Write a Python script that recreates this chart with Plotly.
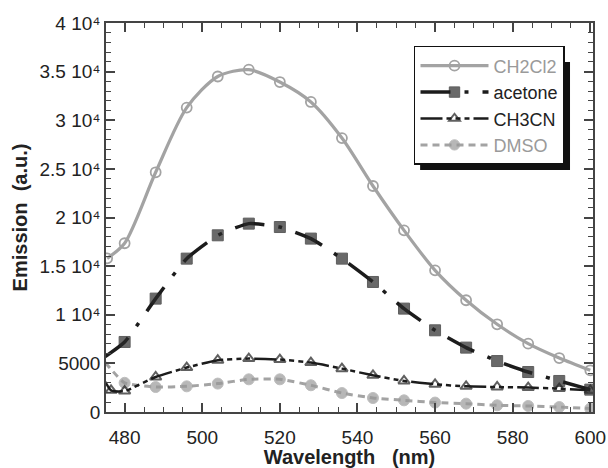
import plotly.graph_objects as go

# Emission spectra of the complex in four solvents
wl_ch2cl2 = [475.5, 480, 488, 496, 504, 512, 520, 528, 536, 544, 552, 560, 568, 576, 584, 592, 600]
em_ch2cl2 = [15800, 17350, 24650, 31300, 34500, 35200, 33930, 31880, 28170, 23240, 18680, 14570,
             11490, 9020, 7030, 5550, 4290]

wl_acetone = [475.0, 480, 488, 496, 504, 512, 520, 528, 536, 544, 552, 560, 568, 576, 584, 592, 600]
em_acetone = [5700, 7200, 11660, 15770, 18170, 19370, 19020, 17830, 15770, 13370, 10630, 8400,
              6620, 5240, 4110, 3190, 2300]

wl_ch3cn = [475.0, 476.5, 480, 488, 496, 504, 512, 520, 528, 536, 544, 552, 560, 568, 576, 584, 592, 600]
em_ch3cn = [3100, 2230, 2150, 3600, 4570, 5320, 5490, 5390, 5080, 4460, 3770, 3190, 2850, 2640,
            2570, 2510, 2410, 2230]

wl_dmso = [475.0, 480, 488, 496, 504, 512, 520, 528, 536, 544, 552, 560, 568, 576, 584, 592, 600]
em_dmso = [5100, 3000, 2570, 2640, 2920, 3360, 3360, 2750, 1950, 1440, 1200, 970, 860, 690, 620,
           510, 350]

x_ticks = [480, 500, 520, 540, 560, 580, 600]
y_ticks = [0, 5000, 10000, 15000, 20000, 25000, 30000, 35000, 40000]
y_ticktext = ["0", "5000", "1 10\u2074", "1.5 10\u2074", "2 10\u2074",
              "2.5 10\u2074", "3 10\u2074", "3.5 10\u2074", "4 10\u2074"]

GRAY = "#a3a3a3"
DARK = "#1c1c1c"
NB = "\u00a0"


def sizes(xs, size):
    # no marker on the points that sit on the left frame edge
    return [0 if x < 476.5 and x != 475.5 else size for x in xs]


fig = go.Figure()

fig.add_trace(go.Scatter(
    x=wl_dmso, y=em_dmso, name='<span style="color:#9a9a9a">DMSO</span>', legendrank=4,
    mode="lines+markers", line=dict(color=GRAY, width=3, dash="7px,5px", shape="spline", smoothing=0.5),
    marker=dict(symbol="circle", size=sizes(wl_dmso, 11), color="#999999"),
))
fig.add_trace(go.Scatter(
    x=wl_ch3cn, y=em_ch3cn, name="CH3CN", legendrank=3,
    mode="lines+markers",
    line=dict(color=DARK, width=2.5, dash="22px,4px,5px,4px,5px,4px,5px,4px", shape="spline", smoothing=0.5),
    marker=dict(symbol="triangle-up-open", size=sizes(wl_ch3cn, 10), color=DARK, line=dict(width=2)),
))
fig.add_trace(go.Scatter(
    x=wl_acetone, y=em_acetone, name="acetone", legendrank=2,
    mode="lines+markers",
    line=dict(color=DARK, width=3.5, dash="30px,14px,4px,14px", shape="spline", smoothing=0.5),
    marker=dict(symbol="square", size=sizes(wl_acetone, 11), color="#2a2a2a"),
))
fig.add_trace(go.Scatter(
    x=wl_ch2cl2, y=em_ch2cl2, name='<span style="color:#9a9a9a">CH2Cl2</span>', legendrank=1,
    mode="lines+markers", line=dict(color=GRAY, width=3.2, shape="spline", smoothing=0.8),
    marker=dict(symbol="circle-open", size=10, color=GRAY, line=dict(width=1.8)),
))

axis_common = dict(
    showline=True, linecolor="#444444", linewidth=1.5, mirror="allticks",
    ticks="inside", tickcolor="#444444", tickwidth=1.5, ticklen=9,
    showgrid=False, zeroline=False, automargin=False,
    tickfont=dict(family="Liberation Sans, Arial", size=19, color="#222222"),
)

fig.update_layout(
    width=608, height=468,
    margin=dict(l=106, r=15, t=23, b=56),
    paper_bgcolor="white", plot_bgcolor="white",
    font=dict(family="Liberation Sans, Arial", color="#222222"),
    xaxis=dict(
        range=[475.2, 600.7], tickvals=x_ticks, ticktext=[str(v) for v in x_ticks],
        minor=dict(dtick=5, tick0=480, ticks="inside", ticklen=5, tickcolor="#444444", tickwidth=1.2),
        title=dict(text=f"<b>Wavelength{NB}{NB}{NB}(nm)</b>", font=dict(size=20), standoff=5),
        ticklabelstandoff=7,
        **axis_common,
    ),
    yaxis=dict(
        range=[0, 40000], tickvals=y_ticks, ticktext=y_ticktext,
        minor=dict(dtick=1000, tick0=0, ticks="inside", ticklen=5, tickcolor="#444444", tickwidth=1.2),
        title=dict(text=f"<b>Emission{NB}{NB}(a.u.)</b>", font=dict(size=20), standoff=6),
        **axis_common,
    ),
    legend=dict(
        x=0.9425, y=0.635, xanchor="right", yanchor="bottom",
        bgcolor="white", bordercolor="#111111", borderwidth=1.5,
        font=dict(family="Liberation Sans, Arial", size=18, color="#222222"),
        itemwidth=68, tracegroupgap=0,
    ),
    # drop shadow behind the legend box
    shapes=[dict(
        type="rect", xref="paper", yref="paper", layer="above",
        x0=0.645, x1=0.9528, y0=0.622, y1=0.9,
        fillcolor="#111111", line=dict(width=0),
    )],
    showlegend=True,
)

fig.write_html("out.html")
